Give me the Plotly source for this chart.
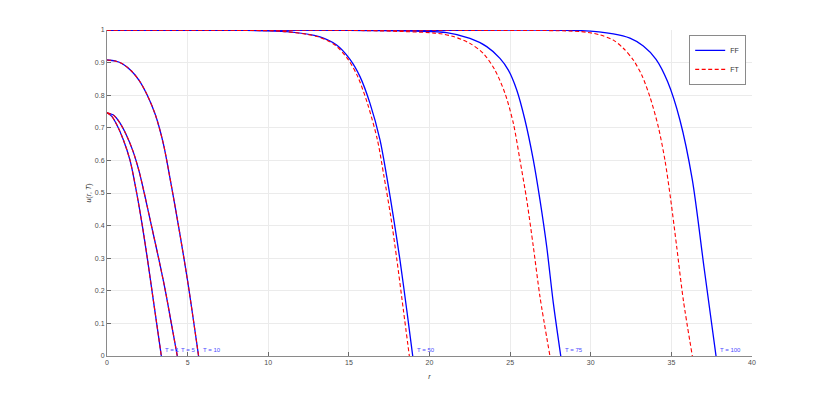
import plotly.graph_objects as go

#
# Data
#
# T = 1, 5, 10: FF and FT coincide
r_t1 = [0, 0.3, 0.6, 1.0, 1.43, 1.84, 2.19, 2.50, 2.79, 3.08, 3.37]
u_t1 = [0.746, 0.735, 0.71, 0.665, 0.60, 0.50, 0.40, 0.30, 0.20, 0.10, 0]

r_t5 = [0, 0.4, 0.8, 1.2, 1.6, 2.0, 2.4, 2.8, 3.2, 3.62, 3.99, 4.36]
u_t5 = [0.746, 0.739, 0.715, 0.678, 0.630, 0.565, 0.48, 0.39, 0.30, 0.20, 0.10, 0]

r_t10 = [0, 0.5, 1.0, 1.5, 2.0, 2.5, 3.0, 3.5, 4.0, 4.5, 5.0, 5.68]
u_t10 = [0.908, 0.905, 0.895, 0.875, 0.845, 0.80, 0.74, 0.65, 0.52, 0.38, 0.23, 0]

# T = 50
r_ff_50 = [0, 8, 11.14, 13.21, 14.24, 15.07, 15.69, 16.31, 16.93, 17.35, 17.76, 18.17, 18.59, 18.96]
u_ff_50 = [1, 0.999, 0.995, 0.979, 0.954, 0.910, 0.857, 0.775, 0.663, 0.550, 0.427, 0.294, 0.141, 0]
r_ft_50 = [0, 8, 11.1, 13.11, 14.14, 14.95, 15.55, 16.15, 16.77, 17.18, 17.60, 17.98, 18.38, 18.75]
u_ft_50 = [1, 0.999, 0.995, 0.979, 0.954, 0.910, 0.857, 0.775, 0.663, 0.550, 0.427, 0.294, 0.141, 0]

# T = 75
r_ff_75 = [0, 15, 21.07, 22.51, 23.55, 24.37, 24.89, 25.41, 25.92, 26.44, 26.85, 27.27, 27.68, 28.14]
u_ff_75 = [1, 0.999, 0.992, 0.974, 0.949, 0.913, 0.877, 0.816, 0.724, 0.601, 0.479, 0.335, 0.162, 0]
r_ft_75 = [0, 15, 20.45, 21.48, 22.51, 23.34, 24.06, 24.68, 25.20, 25.61, 26.03, 26.44, 26.85, 27.47]
u_ft_75 = [1, 0.999, 0.990, 0.980, 0.959, 0.928, 0.877, 0.806, 0.714, 0.601, 0.479, 0.335, 0.182, 0]

# T = 100
r_ff_100 = [0, 22, 29.4, 31.4, 32.43, 33.26, 34.05, 34.77, 35.53, 36.30, 37.03, 37.77]
u_ff_100 = [1, 0.999, 0.998, 0.988, 0.975, 0.951, 0.910, 0.841, 0.724, 0.540, 0.27, 0]
r_ft_100 = [0, 22, 29.4, 30.57, 31.40, 32.02, 32.64, 33.16, 33.67, 34.19, 34.60, 34.96, 35.33, 35.74, 36.30]
u_ft_100 = [1, 0.999, 0.995, 0.985, 0.969, 0.944, 0.908, 0.862, 0.795, 0.703, 0.601, 0.479, 0.335, 0.172, 0]

t_labels = ['T = 1', 'T = 5', 'T = 10', 'T = 50', 'T = 75', 'T = 100']
label_r = [3.37, 4.36, 5.68, 18.96, 28.14, 37.77]

ff_curves = [(r_t1, u_t1), (r_t5, u_t5), (r_t10, u_t10),
             (r_ff_50, u_ff_50), (r_ff_75, u_ff_75), (r_ff_100, u_ff_100)]
ft_curves = [(r_t1, u_t1), (r_t5, u_t5), (r_t10, u_t10),
             (r_ft_50, u_ft_50), (r_ft_75, u_ft_75), (r_ft_100, u_ft_100)]

#
# Figure
#
fig = go.Figure()
for i, (r, u) in enumerate(ff_curves):
    fig.add_trace(go.Scatter(x=r, y=u, mode='lines', name='FF', legendgroup='FF',
                             showlegend=(i == 0),
                             line=dict(color='#0000ff', width=1.3, shape='spline', smoothing=0.8)))
for i, (r, u) in enumerate(ft_curves):
    fig.add_trace(go.Scatter(x=r, y=u, mode='lines', name='FT', legendgroup='FT',
                             showlegend=(i == 0),
                             line=dict(color='#ff0000', width=1.1, dash='4px,2.5px',
                                       shape='spline', smoothing=0.8)))

for txt, rx in zip(t_labels, label_r):
    fig.add_annotation(x=rx, y=0.017, text=txt, showarrow=False, xanchor='left',
                       xshift=2, font=dict(size=6, color='#4a4aff'))

axis_common = dict(showgrid=True, gridcolor='#ebebeb', gridwidth=1,
                   showline=True, linecolor='#8a8a8a', linewidth=1,
                   ticks='inside', ticklen=4, tickcolor='#6a6a6a',
                   tickfont=dict(size=7, color='#4d4d4d'), zeroline=False)

fig.update_xaxes(range=[0, 40], dtick=5,
                 title=dict(text='<i>r</i>', font=dict(size=7, color='#333333'), standoff=8),
                 **axis_common)
fig.update_yaxes(range=[0, 1], dtick=0.1,
                 title=dict(text='<i>u</i>(<i>r</i>, <i>T</i>)', font=dict(size=7, color='#333333'),
                            standoff=2),
                 **axis_common)

# page body has an 8px margin, so the figure is made 8px smaller
fig.update_layout(width=822, height=393,
                  margin=dict(l=99, r=78, t=22, b=45),
                  paper_bgcolor='white', plot_bgcolor='white',
                  font=dict(family='Liberation Sans', size=7),
                  legend=dict(x=0.991, y=0.985, xanchor='right', yanchor='top',
                              bordercolor='#8a8a8a', borderwidth=1, bgcolor='white',
                              font=dict(size=7, color='#333333'), itemwidth=30,
                              tracegroupgap=0),
                  showlegend=True)

fig.write_html("out.html")
